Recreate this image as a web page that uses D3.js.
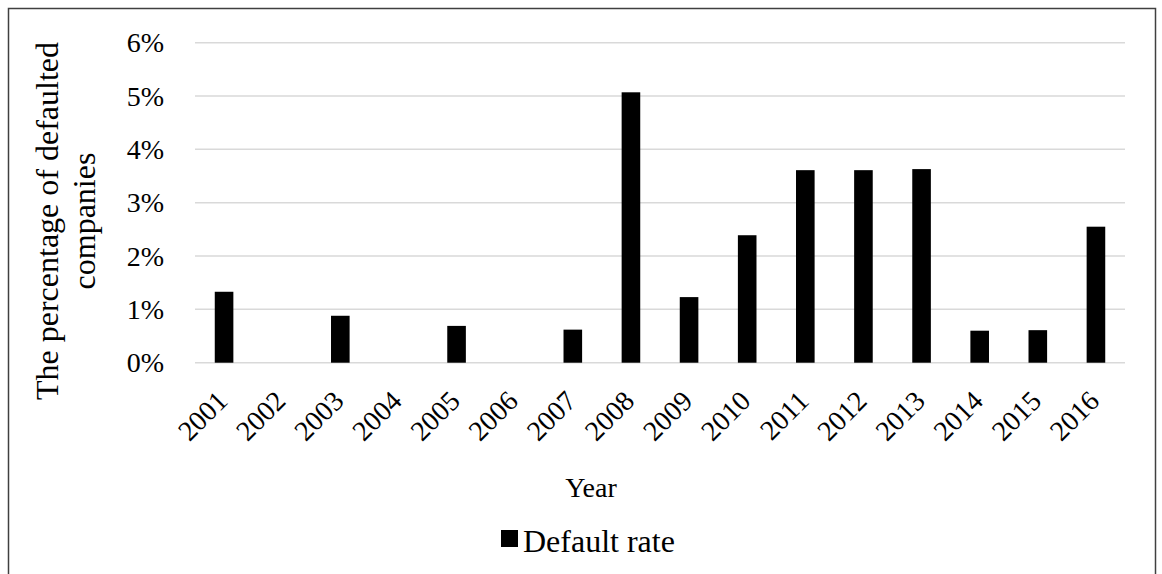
<!DOCTYPE html>
<html>
<head>
<meta charset="utf-8">
<script src="https://cdn.jsdelivr.net/npm/d3@7"></script>
<style>
  html, body { margin: 0; padding: 0; background: #fff; }
  svg { display: block; }
  text { font-family: "Liberation Serif", "Times New Roman", serif; fill: #000; }
</style>
</head>
<body>
<svg id="chart" width="1162" height="574"></svg>
<script>
// Annual default rate of companies, 2001–2016 (fraction of companies)
const years = ["2001","2002","2003","2004","2005","2006","2007","2008",
               "2009","2010","2011","2012","2013","2014","2015","2016"];
const defaultRate = [0.0133, 0, 0.0088, 0, 0.0069, 0, 0.0062, 0.0507,
                     0.0123, 0.0239, 0.0361, 0.0361, 0.0363, 0.0060, 0.0061, 0.0255];
const yTicks = [0, 0.01, 0.02, 0.03, 0.04, 0.05, 0.06];
const seriesName = "Default rate";
const xTitle = "Year";
const yTitleLines = ["The percentage of defaulted", "companies"];

const svg = d3.select("#chart");
const plot = { left: 195, right: 1125, top: 42.7, bottom: 362.7 };
const tickFs = 28, titleFs = 32, xTitleFs = 28, legendFs = 32;

// outer frame of the chart area
svg.append("rect")
  .attr("x", 8.5).attr("y", 8.5)
  .attr("width", 1147).attr("height", 600)
  .attr("fill", "#fff").attr("stroke", "#404040").attr("stroke-width", 1.5);

const x = d3.scaleBand().domain(years)
  .range([plot.left, plot.right]).paddingInner(0.68).paddingOuter(0.34);
const y = d3.scaleLinear().domain([0, 0.06]).range([plot.bottom, plot.top]);

// horizontal gridlines
svg.append("g").selectAll("line").data(yTicks).join("line")
  .attr("x1", plot.left).attr("x2", plot.right)
  .attr("y1", d => y(d)).attr("y2", d => y(d))
  .attr("stroke", "#d9d9d9").attr("stroke-width", 1.5);

// y axis labels
const yAxis = d3.axisLeft(y).tickValues(yTicks).tickFormat(d3.format(".0%")).tickSize(0).tickPadding(31);
const gy = svg.append("g").attr("transform", `translate(${plot.left},0)`).call(yAxis);
gy.select(".domain").remove();
gy.selectAll("text").style("font-size", tickFs + "px")
  .style("font-family", '"Liberation Serif", serif').attr("fill", "#000");

// bars
svg.append("g").selectAll("rect").data(years.map((yr, i) => ({ yr, v: defaultRate[i] })))
  .join("rect")
  .attr("x", d => x(d.yr))
  .attr("width", x.bandwidth())
  .attr("y", d => y(d.v))
  .attr("height", d => y(0) - y(d.v))
  .attr("fill", "#000");

// x axis labels, rotated
const xAxis = d3.axisBottom(x).tickSize(0).tickPadding(0);
const gx = svg.append("g").attr("transform", `translate(0,${plot.bottom})`).call(xAxis);
gx.select(".domain").remove();
gx.selectAll("text")
  .style("font-size", tickFs + "px")
  .style("font-family", '"Liberation Serif", serif')
  .attr("fill", "#000")
  .attr("text-anchor", "end")
  .attr("dy", null)
  .attr("y", 0)
  .attr("transform", "translate(5,40) rotate(-45)");

// axis titles
svg.append("text")
  .attr("x", 591).attr("y", 497)
  .attr("text-anchor", "middle")
  .style("font-size", xTitleFs + "px")
  .text(xTitle);

const yTitle = svg.append("text")
  .attr("transform", "translate(58,221) rotate(-90)")
  .attr("text-anchor", "middle")
  .style("font-size", titleFs + "px");
yTitle.selectAll("tspan").data(yTitleLines).join("tspan")
  .attr("x", 0).attr("y", (d, i) => i * 37)
  .text(d => d);

// legend
const legend = svg.append("g").attr("transform", "translate(501,530)");
legend.append("rect").attr("width", 17).attr("height", 17).attr("fill", "#000");
legend.append("text").attr("x", 22).attr("y", 22)
  .style("font-size", legendFs + "px").text(seriesName);
</script>
</body>
</html>
